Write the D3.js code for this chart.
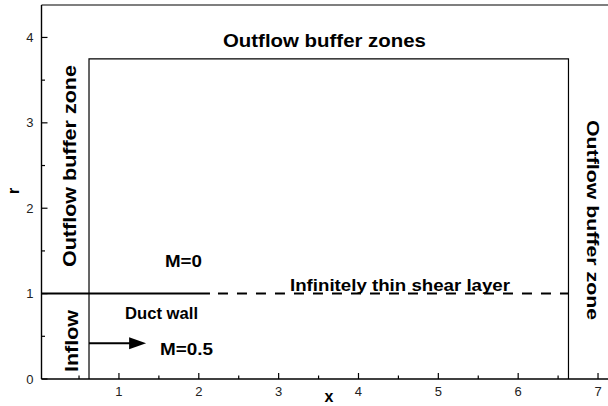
<!DOCTYPE html>
<html>
<head>
<meta charset="utf-8">
<script src="https://cdn.jsdelivr.net/npm/d3@7"></script>
<style>
  body { margin: 0; background: #fff; }
  text { font-family: "Liberation Sans", Arial, sans-serif; }
</style>
</head>
<body>
<div class="container"></div>
<script>
// axis ranges and ticks
var xDomain = [0.03, 7.15];
var rDomain = [0, 4.38];
var xTicks = [1, 2, 3, 4, 5, 6, 7];
var xMinor = [0.5, 1.5, 2.5, 3.5, 4.5, 5.5, 6.5];
var rTicks = [0, 1, 2, 3, 4];
var rMinor = [0.5, 1.5, 2.5, 3.5];

// domain geometry
var ductEnd = 0.625;      // left inflow boundary
var outflowRight = 6.63;  // right outflow boundary
var outflowTop = 3.75;    // top outflow boundary
var wallEnd = 2.14;       // end of duct wall (solid)
var lipR = 1;
var arrowR = 0.42;
var arrowX = [0.625, 1.34];

// labels: [text, x, r, rotate, size, length]
var labels = [
  ["Outflow buffer zones", 3.574, 3.97, 0, 19, 203],
  ["Outflow buffer zone", 0.387, 2.494, -90, 18, 202],
  ["Inflow", 0.399, 0.445, -90, 19, 62],
  ["M=0", 1.808, 1.382, 0, 16, 37],
  ["Duct wall", 1.533, 0.773, 0, 16, 73],
  ["M=0.5", 1.846, 0.351, 0, 16, 53],
  ["Infinitely thin shear layer", 4.52, 1.095, 0, 16, 220],
  ["Outflow buffer zone", 6.937, 1.862, 90, 17, 200]
];

var W = 608, H = 406;
var x = d3.scaleLinear().domain(xDomain).range([41.5, 610]);
var y = d3.scaleLinear().domain(rDomain).range([379, 5]);

var svg = d3.select('.container').append('svg')
  .attr('width', W).attr('height', H);

// frame
svg.append('line').attr('x1', x(xDomain[0])).attr('x2', W)
  .attr('y1', y(rDomain[1])).attr('y2', y(rDomain[1]))
  .attr('stroke', '#000').attr('stroke-width', 1.2);

// x axis, ticks inward
var xAxis = svg.append('g').attr('transform', 'translate(0,' + y(0) + ')');
xAxis.append('line').attr('x1', x(xDomain[0])).attr('x2', W)
  .attr('stroke', '#000').attr('stroke-width', 1.4);
xAxis.selectAll('.maj').data(xTicks).enter().append('line')
  .attr('x1', function(d){ return x(d); }).attr('x2', function(d){ return x(d); })
  .attr('y1', 0).attr('y2', -6).attr('stroke', '#000').attr('stroke-width', 1.2);
xAxis.selectAll('.min').data(xMinor).enter().append('line')
  .attr('x1', function(d){ return x(d); }).attr('x2', function(d){ return x(d); })
  .attr('y1', 0).attr('y2', -3.5).attr('stroke', '#000').attr('stroke-width', 1.2);
xAxis.selectAll('text').data(xTicks).enter().append('text')
  .attr('x', function(d){ return x(d); }).attr('y', 17)
  .attr('text-anchor', 'middle').attr('font-size', 13).attr('fill', '#222')
  .text(function(d){ return d; });

// r axis
var rAxis = svg.append('g').attr('transform', 'translate(' + x(xDomain[0]) + ',0)');
rAxis.append('line').attr('y1', y(0)).attr('y2', y(rDomain[1]))
  .attr('stroke', '#000').attr('stroke-width', 1.4);
rAxis.selectAll('.maj').data(rTicks).enter().append('line')
  .attr('y1', function(d){ return y(d); }).attr('y2', function(d){ return y(d); })
  .attr('x1', 0).attr('x2', 6).attr('stroke', '#000').attr('stroke-width', 1.2);
rAxis.selectAll('.min').data(rMinor).enter().append('line')
  .attr('y1', function(d){ return y(d); }).attr('y2', function(d){ return y(d); })
  .attr('x1', 0).attr('x2', 3.5).attr('stroke', '#000').attr('stroke-width', 1.2);
rAxis.selectAll('text').data(rTicks).enter().append('text')
  .attr('x', -8).attr('y', function(d){ return y(d) + 4.5; })
  .attr('text-anchor', 'end').attr('font-size', 13).attr('fill', '#222')
  .text(function(d){ return d; });

// axis titles
svg.append('text').attr('x', 329).attr('y', 402).attr('text-anchor', 'middle')
  .attr('font-size', 16).attr('font-weight', 'bold').text('x');
svg.append('text').attr('transform', 'translate(19,191) rotate(-90)')
  .attr('text-anchor', 'middle').attr('font-size', 17).attr('font-weight', 'bold').text('r');

// buffer zone box
var box = d3.line().x(function(d){ return x(d[0]); }).y(function(d){ return y(d[1]); });
svg.append('path')
  .attr('d', box([[ductEnd, 0], [ductEnd, outflowTop], [outflowRight, outflowTop], [outflowRight, 0]]))
  .attr('fill', 'none').attr('stroke', '#000').attr('stroke-width', 1.2);

// duct wall and shear layer
svg.append('line').attr('x1', x(xDomain[0])).attr('x2', x(wallEnd))
  .attr('y1', y(lipR)).attr('y2', y(lipR))
  .attr('stroke', '#000').attr('stroke-width', 2);
svg.append('line').attr('x1', x(wallEnd) + 8).attr('x2', x(outflowRight))
  .attr('y1', y(lipR)).attr('y2', y(lipR))
  .attr('stroke', '#000').attr('stroke-width', 2)
  .attr('stroke-dasharray', '10,9');

// arrow
svg.append('line').attr('x1', x(arrowX[0])).attr('x2', x(arrowX[1]) - 15)
  .attr('y1', y(arrowR)).attr('y2', y(arrowR))
  .attr('stroke', '#000').attr('stroke-width', 2);
var ax = x(arrowX[1]), ay = y(arrowR);
svg.append('path')
  .attr('d', 'M' + ax + ',' + ay + 'L' + (ax - 17) + ',' + (ay - 6) + 'L' + (ax - 17) + ',' + (ay + 6) + 'Z')
  .attr('fill', '#000');

// labels
svg.selectAll('.lbl').data(labels).enter().append('text')
  .attr('class', 'lbl')
  .attr('transform', function(d){
    return 'translate(' + x(d[1]) + ',' + y(d[2]) + ') rotate(' + d[3] + ')';
  })
  .attr('text-anchor', 'middle').attr('dy', '0.36em')
  .attr('font-size', function(d){ return d[4]; })
  .attr('font-weight', 'bold')
  .attr('textLength', function(d){ return d[5]; })
  .attr('lengthAdjust', 'spacingAndGlyphs')
  .text(function(d){ return d[0]; });
</script>
</body>
</html>
